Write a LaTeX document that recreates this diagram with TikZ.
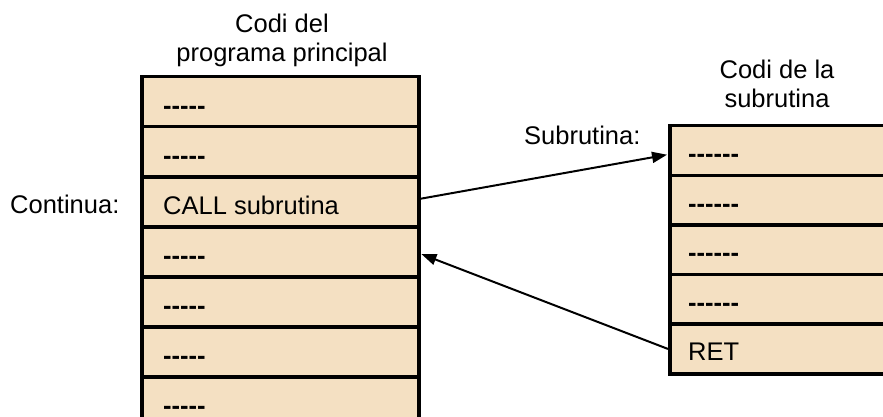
\documentclass[tikz,border=0pt]{standalone}
\usepackage{fontspec}
\setmainfont{Liberation Sans}[Ligatures=TeXOff]
\usetikzlibrary{arrows.meta}
\definecolor{cellfill}{RGB}{244,224,194}
\tikzset{
  cell/.style={draw=black, line width=3.5pt, fill=cellfill, rectangle,
    minimum height=50pt, inner sep=0pt, anchor=north west},
  leftcell/.style={cell, minimum width=277pt},
  rightcell/.style={cell, minimum width=240pt, minimum height=49.6pt},
  celltext/.style={anchor=base west, inner sep=0pt, font=\fontsize{25.5}{29}\selectfont},
  caption/.style={align=center, inner sep=0pt, font=\fontsize{25.5}{29}\selectfont},
  flow/.style={line width=2pt, -{Triangle[length=15pt,width=11pt]}, shorten >=1pt}
}
\newcommand{\blank}[1]{\textbf{#1}}
\begin{document}
\begin{tikzpicture}[x=1pt,y=-1pt]
\useasboundingbox (0,0) rectangle (883,417);

% main program memory
\foreach \i/\t in {1/{\blank{-----}},2/{\blank{-----}},3/{CALL subrutina},4/{\blank{-----}},5/{\blank{-----}},6/{\blank{-----}},7/{\blank{-----}}} {
  \node[leftcell] (L\i) at (140,{75+50*(\i-1)}) {};
  \node[celltext] (LT\i) at ([xshift=23pt,yshift=-13pt]L\i.west) {\t};
}

% subroutine memory
\foreach \i/\t in {1/{\blank{------}},2/{\blank{------}},3/{\blank{------}},4/{\blank{------}},5/{RET}} {
  \node[rightcell] (R\i) at (668,{124+49.6*(\i-1)}) {};
  \node[celltext] (RT\i) at ([xshift=20pt,yshift=-12pt]R\i.west) {\t};
}

% headings and labels
\node[caption, anchor=base] (hl) at (282,62) {Codi del\\programa principal};
\node[caption, anchor=base] (hr) at (777,108) {Codi de la\\subrutina};
\node[celltext] (cont) at (10,213) {Continua:};
\node[celltext] (sub) at (524,145) {Subrutina:};

% call and return
\draw[flow] ([yshift=3pt]L3.east) -- ([yshift=-4pt]R1.west);
\draw[flow] (R5.west) -- ([yshift=-2pt]L4.east);
\end{tikzpicture}
\end{document}
